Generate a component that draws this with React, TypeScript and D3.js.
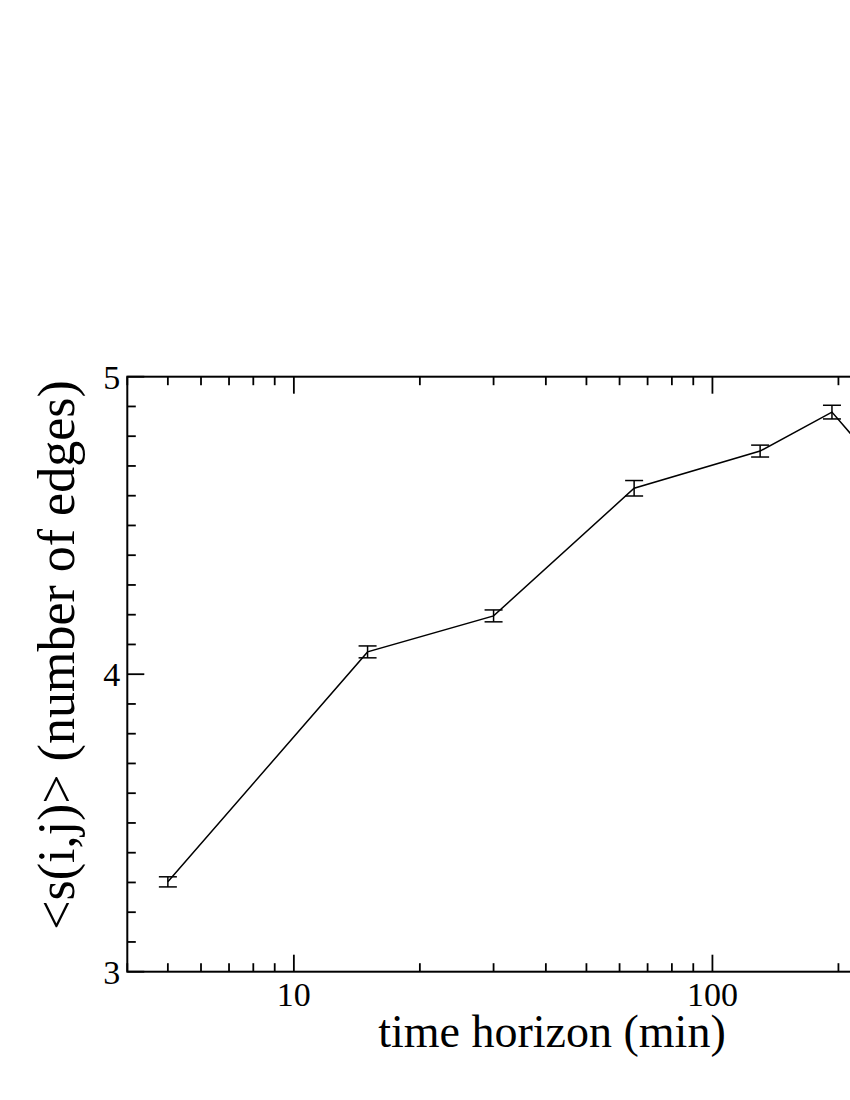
import React from "react";
import * as d3 from "d3";

const horizons = [5, 15, 30, 65, 130, 193, 260];
const meanEdges = [3.302, 4.075, 4.196, 4.625, 4.75, 4.881, 4.67];
const errEdges = [0.017, 0.02, 0.02, 0.026, 0.02, 0.023, 0.02];
const yTicks = [3, 4, 5];
const xTickLabels = [10, 100];
const xMajor = [10, 100, 1000];

const W = 850;
const H = 1100;
const left = 127.3;
const top = 376.7;
const bottom = 971.7;
const right = 1131;
const font = "'Liberation Serif', 'Times New Roman', serif";

export default function App() {
  const x = d3.scaleLog().domain([4, 1000]).range([left, right]);
  const y = d3.scaleLinear().domain([3, 5]).range([bottom, top]);

  const line = d3
    .line<number>()
    .x((_, i) => x(horizons[i]))
    .y((d) => y(d));

  const xMinor: number[] = [];
  for (let dec = 1; dec <= 100; dec *= 10) {
    for (let k = 1; k <= 9; k++) {
      const v = k * dec;
      if (v >= 4 && v <= 1000) xMinor.push(v);
    }
  }
  const yMinor = d3.range(30, 51).map((v) => v / 10);

  return (
    <svg
      width={W}
      height={H}
      style={{ position: "absolute", left: 0, top: 0, overflow: "hidden", background: "#fff" }}
    >
      <defs>
        <clipPath id="clip">
          <rect x={0} y={0} width={W} height={H} />
        </clipPath>
      </defs>
      <g clipPath="url(#clip)">
        {xMinor.map((v, i) => {
          const major = xMajor.includes(v);
          const len = major ? 17 : 8.5;
          return (
            <g key={"xt" + i} stroke="#000" strokeWidth={1.8}>
              <line x1={x(v)} x2={x(v)} y1={bottom} y2={bottom - len} />
              <line x1={x(v)} x2={x(v)} y1={top} y2={top + len} />
            </g>
          );
        })}
        {yMinor.map((v, i) => {
          const major = yTicks.some((t) => Math.abs(t - v) < 1e-9);
          const len = major ? 17 : 8.5;
          return (
            <g key={"yt" + i} stroke="#000" strokeWidth={1.8}>
              <line x1={left} x2={left + len} y1={y(v)} y2={y(v)} />
              <line x1={right} x2={right - len} y1={y(v)} y2={y(v)} />
            </g>
          );
        })}
        <rect
          x={left}
          y={top}
          width={right - left}
          height={bottom - top}
          fill="none"
          stroke="#000"
          strokeWidth={2}
        />
        <path d={line(meanEdges) || ""} fill="none" stroke="#000" strokeWidth={1.5} />
        {meanEdges.map((m, i) => {
          const cx = x(horizons[i]);
          const y1 = y(m - errEdges[i]);
          const y2 = y(m + errEdges[i]);
          return (
            <g key={"eb" + i} stroke="#000" strokeWidth={1.5}>
              <line x1={cx} x2={cx} y1={y1} y2={y2} />
              <line x1={cx - 9} x2={cx + 9} y1={y1} y2={y1} />
              <line x1={cx - 9} x2={cx + 9} y1={y2} y2={y2} />
            </g>
          );
        })}
        {yTicks.map((t) => (
          <text
            key={"yl" + t}
            x={left - 7}
            y={y(t)}
            dy="0.35em"
            textAnchor="end"
            fontFamily={font}
            fontSize={34}
          >
            {t}
          </text>
        ))}
        {xTickLabels.map((t) => (
          <text
            key={"xl" + t}
            x={x(t)}
            y={bottom + 34}
            textAnchor="middle"
            fontFamily={font}
            fontSize={34}
          >
            {t}
          </text>
        ))}
        <text
          x={552}
          y={1047}
          textAnchor="middle"
          fontFamily={font}
          fontSize={46}
        >
          time horizon (min)
        </text>
        <text
          transform="translate(74,655) rotate(-90)"
          textAnchor="middle"
          fontFamily={font}
          fontSize={52}
        >
          {"<s(i,j)> (number of edges)"}
        </text>
      </g>
    </svg>
  );
}
